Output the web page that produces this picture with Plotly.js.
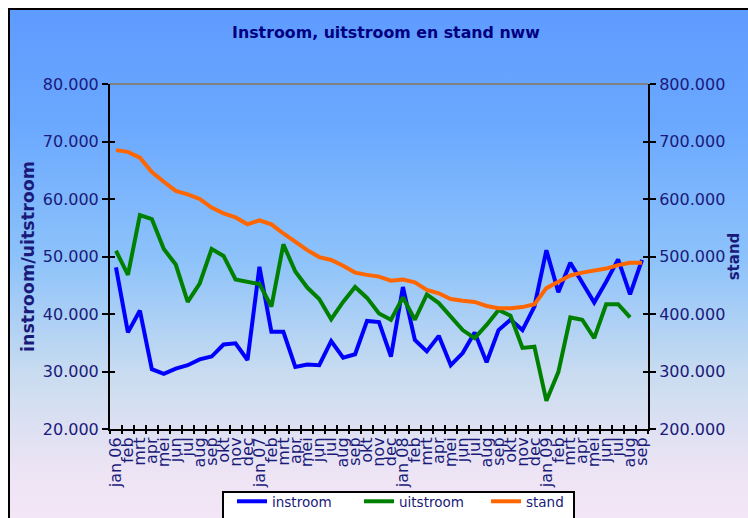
<!DOCTYPE html>
<html>
<head>
<meta charset="utf-8">
<script src="https://cdn.plot.ly/plotly-3.0.1.min.js"></script>
<style>
  html, body { margin:0; padding:0; width:748px; height:518px; overflow:hidden; background:#ffffff; }
  #bg { position:absolute; left:8px; top:8px; width:800px; height:560px; border:2px solid #000;
        background: linear-gradient(to bottom, #5e9bff 0%, #6aa8ff 20%, #8ec3fa 45%, #c9dcf0 65%, #ece4f4 82%, #fbe9f8 100%); }
  #chart { position:absolute; left:0; top:0; width:748px; height:540px; }
</style>
</head>
<body>
<div id="bg"></div>
<div id="chart"></div>
<script>
const months = ["jan","feb","mrt","apr","mei","jun","jul","aug","sep","okt","nov","dec"];
const years = ["06","07","08","09"];
const labels = [];
for (let y = 0; y < years.length; y++) {
  for (let m = 0; m < 12; m++) {
    if (y === 3 && m > 8) break;
    labels.push(m === 0 ? "jan " + years[y] : months[m]);
  }
}
const instroom = [48100, 36800, 40600, 30400, 29600, 30500, 31100, 32100, 32600, 34700, 34900, 32000,
                  48200, 36900, 36900, 30800, 31200, 31100, 35300, 32400, 33000, 38800, 38600, 32600,
                  44700, 35500, 33500, 36200, 31100, 33200, 36800, 31600, 37200, 39000, 37200, 41300,
                  51100, 43800, 48900, 45300, 42000, 45600, 49500, 43400, 49400];
const uitstroom = [51000, 46800, 57200, 56500, 51300, 48600, 42100, 45300, 51300, 50100, 46000, 45600,
                   45200, 41300, 52100, 47400, 44600, 42600, 39100, 42100, 44700, 42800, 40100, 39000,
                   42900, 39000, 43400, 41900, 39500, 37200, 35800, 38100, 40700, 39700, 34100, 34300,
                   24900, 29900, 39400, 39000, 35800, 41700, 41700, 39400];
const stand = [685000, 682000, 672000, 647000, 630000, 614000, 608000, 600000, 585000, 575000, 568000, 556000,
               563000, 556000, 540000, 525000, 511000, 499000, 494000, 484000, 472000, 468000, 465000, 458000,
               460000, 455000, 442000, 436000, 426000, 423000, 421000, 414000, 410000, 410000, 412000, 417000,
               445000, 456000, 467000, 472000, 476000, 479000, 485000, 489000, 489000];

const idx = labels.map((_, i) => i);
const between = [];
for (let i = 0; i <= labels.length; i++) between.push(i - 0.5);

const navy = "#1a1a7a";
const fontFam = "DejaVu Sans, Verdana, sans-serif";

const traces = [
  {x: idx.slice(0, instroom.length), y: instroom, name: "instroom", type: "scatter", mode: "lines",
   line: {color: "#0000ff", width: 4}},
  {x: idx.slice(0, uitstroom.length), y: uitstroom, name: "uitstroom", type: "scatter", mode: "lines",
   line: {color: "#008000", width: 4}},
  {x: idx.slice(0, stand.length), y: stand, name: "stand", type: "scatter", mode: "lines", yaxis: "y2",
   line: {color: "#ff6600", width: 4}},
  {x: [null], y: [null], xaxis: "x2", yaxis: "y3", showlegend: false, hoverinfo: "skip", type: "scatter"},
  {x: [null], y: [null], xaxis: "x3", yaxis: "y4", showlegend: false, hoverinfo: "skip", type: "scatter"}
];

const PW = 538, PH = 345, PL = 110, PB = 429;
const px = v => (v - PL) / PW;
const py = v => (PB - v) / PH;

const xr = [-0.5, labels.length - 0.5];
const layout = {
  width: 748, height: 540,
  paper_bgcolor: "rgba(0,0,0,0)", plot_bgcolor: "rgba(0,0,0,0)",
  margin: {l: 110, r: 100, t: 84, b: 111, autoexpand: false},
  separators: ",.",
  font: {family: fontFam, color: navy},
  title: {text: "<b>Instroom, uitstroom en stand nww</b>", x: 0.516, xanchor: "center",
          y: 1 - 32 / 540, yanchor: "middle",
          font: {size: 15.8, color: "#000080", family: fontFam}},
  showlegend: true,
  legend: {orientation: "h", x: px(232), xanchor: "left", y: py(486), yanchor: "top",
           bgcolor: "rgba(0,0,0,0)", borderwidth: 0,
           entrywidth: 82, entrywidthmode: "pixels",
           font: {size: 13.5, color: navy, family: fontFam}, tracegroupgap: 0},
  xaxis: {range: xr, tickmode: "array", tickvals: idx, ticktext: labels, tickangle: -90,
          ticks: "", showgrid: false, zeroline: false, showline: true, linecolor: "#000", linewidth: 2,
          tickfont: {size: 16, color: navy, family: fontFam}, fixedrange: true, automargin: false},
  xaxis2: {overlaying: "x", range: xr, tickmode: "array", tickvals: between, ticks: "outside", ticklen: 4,
           tickwidth: 2, tickcolor: "#000", showticklabels: false, showgrid: false, zeroline: false, showline: false},
  xaxis3: {overlaying: "x", range: xr, tickmode: "array", tickvals: between, ticks: "inside", ticklen: 4,
           tickwidth: 2, tickcolor: "#000", showticklabels: false, showgrid: false, zeroline: false, showline: false},
  yaxis: {range: [20000, 80000], dtick: 10000, tickformat: ",d", ticks: "outside", ticklen: 6, tickwidth: 2,
          tickcolor: "#000", showgrid: false, zeroline: false, showline: true, linecolor: "#000", linewidth: 2,
          tickfont: {size: 16, color: navy, family: fontFam}, automargin: false,
          title: {text: "<b>instroom/uitstroom</b>", font: {size: 17.5, color: navy, family: fontFam}, standoff: 4}},
  yaxis2: {overlaying: "y", side: "right", range: [200000, 800000], dtick: 100000, tickformat: ",d",
           ticks: "outside", ticklen: 6, tickwidth: 2, tickcolor: "#000", showgrid: false, zeroline: false,
           showline: true, linecolor: "#000", linewidth: 2, tickfont: {size: 16, color: navy, family: fontFam},
           automargin: false,
           title: {text: "<b>stand</b>", font: {size: 15, color: navy, family: fontFam}, standoff: 2}},
  yaxis3: {overlaying: "y", side: "left", range: [20000, 80000], dtick: 10000, ticks: "inside", ticklen: 5,
           tickwidth: 2, tickcolor: "#000", showticklabels: false, showgrid: false, zeroline: false, showline: false},
  yaxis4: {overlaying: "y", side: "right", range: [20000, 80000], dtick: 10000, ticks: "inside", ticklen: 5,
           tickwidth: 2, tickcolor: "#000", showticklabels: false, showgrid: false, zeroline: false, showline: false},
  shapes: [
    {type: "line", xref: "paper", yref: "paper", x0: 0, x1: 1, y0: 1, y1: 1,
     line: {color: "#808080", width: 2}},
    {type: "rect", xref: "paper", yref: "paper", x0: px(223), x1: px(574), y0: py(492), y1: py(535),
     fillcolor: "#ffffff", line: {color: "#000000", width: 2}, layer: "above"}
  ]
};

Plotly.newPlot("chart", traces, layout, {staticPlot: true, displayModeBar: false});
</script>
</body>
</html>
